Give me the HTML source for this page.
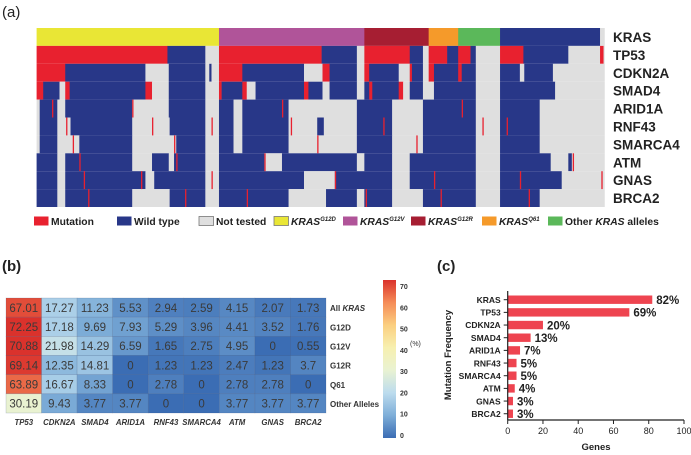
<!DOCTYPE html>
<html><head><meta charset="utf-8"><style>
html,body{margin:0;padding:0;background:#fff;width:691px;height:455px;overflow:hidden}
svg{display:block;font-family:"Liberation Sans",Arial,sans-serif}
</style></head><body>
<svg id="fig" width="691" height="455" viewBox="0 0 691 455">
<text x="2" y="17" font-size="15" fill="#222">(a)</text>
<g id="onco"></g>
<g id="ocolabels"></g>
<g id="legendA"></g>
<text x="2" y="271" font-size="15" font-weight="bold" fill="#222">(b)</text>
<g id="heat"></g>
<g id="cbar"></g>
<text x="437" y="271" font-size="15" font-weight="bold" fill="#222">(c)</text>
<g id="bars"></g>
</svg>
<script>
const NS="http://www.w3.org/2000/svg";
function mk(tag,attrs,parent){const e=document.createElementNS(NS,tag);for(const k in attrs)e.setAttribute(k,attrs[k]);parent.appendChild(e);return e;}

// ---------- Panel A data ----------
const oncoGenes=["KRAS","TP53","CDKN2A","SMAD4","ARID1A","RNF43","SMARCA4","ATM","GNAS","BRCA2"];
const alleleRuns=[["g12d",497],["g12v",827],["g12r",973],["q61",1040],["other",1135],["wt",1362],["n",1372]];
const tp53Runs=[["m",380],["w",466],["n",497],["m",730],["w",810],["n",827],["m",930],["w",960],["n",973],["m",1015],["w",1040],["m",1068],["w",1080],["n",1135],["m",1188],["w",1290],["n",1362],["m",1370],["n",1372]];
const cdkn2aRuns=[["m",148],["w",330],["n",383],["w",466],["n",475],["w",480],["n",497],["m",550],["w",690],["n",732],["m",748],["w",810],["n",827],["m",838],["w",905],["n",930],["m",935],["w",960],["n",973],["m",985],["w",1040],["m",1048],["w",1080],["n",1135],["w",1180],["n",1190],["w",1255],["n",1372]];
const smad4Runs=[["m",98],["w",135],["n",148],["m",158],["w",330],["m",345],["n",383],["w",466],["n",497],["m",503],["w",550],["m",560],["n",580],["w",690],["m",700],["w",732],["n",748],["w",810],["n",827],["w",838],["m",845],["w",905],["m",915],["n",930],["w",960],["n",985],["w",1080],["n",1135],["w",1260],["n",1372]];
const arid1aRuns=[["n",90],["w",130],["n",148],["w",300],["n",383],["w",466],["n",497],["w",530],["n",550],["w",655],["n",810],["w",890],["n",960],["w",1080],["n",1135],["w",1225],["n",1372]];
const rnf43Runs=[["n",90],["w",130],["n",160],["w",300],["n",385],["w",466],["n",497],["w",530],["n",550],["w",655],["n",720],["w",735],["n",810],["w",890],["n",960],["w",1080],["n",1135],["w",1225],["n",1372]];
const smarca4Runs=[["n",90],["w",130],["n",180],["w",300],["n",400],["w",466],["n",497],["w",530],["n",550],["w",655],["n",810],["w",890],["n",960],["w",1080],["n",1135],["w",1225],["n",1372]];
const atmRuns=[["w",130],["n",148],["w",300],["n",345],["w",383],["n",395],["w",466],["n",497],["w",600],["n",640],["w",810],["n",827],["w",890],["n",930],["w",1080],["n",1135],["w",1250],["n",1290],["w",1298],["n",1372]];
const gnasRuns=[["w",130],["n",148],["w",330],["n",350],["w",466],["n",497],["w",690],["n",760],["w",890],["n",930],["w",1080],["n",1135],["w",1275],["n",1372]];
const brca2Runs=[["w",130],["n",148],["w",300],["n",385],["w",466],["n",497],["w",655],["n",740],["w",810],["n",827],["w",890],["n",960],["w",1080],["n",1135],["w",1225],["n",1372]];
const geneRuns=[tp53Runs,cdkn2aRuns,smad4Runs,arid1aRuns,rnf43Runs,smarca4Runs,atmRuns,gnasRuns,brca2Runs];
const streakRows=[3,3,4,4,4,5,5,6,6,7,7,7,8,8,8,3,4,5,6,7,8,4,5,7,8,4,6,7,3,4,7,8];
const streakCols=[118,300,150,345,480,165,395,180,400,190,320,480,200,420,560,640,660,720,600,760,830,870,945,985,1000,1095,1300,1365,1048,1150,1180,1200];
const oncoColors={m:"#e8212f",w:"#283788",n:"#dfdfdf",g12d:"#e9e635",g12v:"#b05499",g12r:"#a61e32",q61:"#f59a2a",other:"#5bb85a",wt:"#283788"};

const oX0=36.6, oScale=2.27, oTop=28, oRowH=17.9;
const ux=u=>oX0+(u-83)/oScale;
const onco=document.getElementById("onco");
function drawRuns(runs,row){
  let s=83;
  runs.forEach(r=>{
    const rc=mk("rect",{x:ux(s),y:oTop+row*oRowH,width:Math.max(0,ux(r[1])-ux(s))+0.3,height:oRowH,fill:oncoColors[r[0]]},onco);
    
    
    s=r[1];
  });
}
drawRuns(alleleRuns,0);
geneRuns.forEach((runs,i)=>drawRuns(runs,i+1));
streakRows.forEach((r,i)=>{
  const st=mk("rect",{x:ux(streakCols[i]),y:oTop+(r+1)*oRowH,width:1.3,height:oRowH,fill:"#e8212f"},onco);
  
  
});
const ol=document.getElementById("ocolabels");
oncoGenes.forEach((g,i)=>{
  const t=mk("text",{x:613,y:oTop+i*oRowH+oRowH/2+5,"font-size":13.5,"font-weight":"bold",fill:"#222"},ol);
  t.textContent=g;
  
  
});
const legA=document.getElementById("legendA");
const legItems=[["#e8212f",34,"Mutation",null],["#283788",117,"Wild type",null],["#dfdfdf",199,"Not tested",null],["#e9e635",274,"KRAS","G12D"],["#b05499",343,"KRAS","G12V"],["#a61e32",411,"KRAS","G12R"],["#f59a2a",482,"KRAS","Q61"],["#5bb85a",548,"Other ",null]];
legItems.forEach((it,i)=>{
  const b=mk("rect",{x:it[1],y:216.5,width:14.5,height:9,fill:it[0],stroke:i>=2&&i<=3?"#777":"none","stroke-width":0.8},legA);
  
  
  const t=mk("text",{x:it[1]+17,y:225,"font-size":10.3,"font-weight":"bold",fill:"#222"},legA);
  
  
  if(it[3]){
    t.innerHTML='<tspan font-style="italic">KRAS</tspan><tspan font-style="italic" font-size="6" dy="-4">'+it[3]+'</tspan>';
  } else if(i===7){
    t.innerHTML='Other <tspan font-style="italic">KRAS</tspan> alleles';
  } else t.textContent=it[2];
});

// ---------- Panel B data ----------
const heatGenes=["TP53","CDKN2A","SMAD4","ARID1A","RNF43","SMARCA4","ATM","GNAS","BRCA2"];
const heatRows=["All KRAS","G12D","G12V","G12R","Q61","Other Alleles"];
const rowAll=[67.01,17.27,11.23,5.53,2.94,2.59,4.15,2.07,1.73];
const rowG12D=[72.25,17.18,9.69,7.93,5.29,3.96,4.41,3.52,1.76];
const rowG12V=[70.88,21.98,14.29,6.59,1.65,2.75,4.95,0,0.55];
const rowG12R=[69.14,12.35,14.81,0,1.23,1.23,2.47,1.23,3.7];
const rowQ61=[63.89,16.67,8.33,0,2.78,0,2.78,2.78,0];
const rowOther=[30.19,9.43,3.77,3.77,0,0,3.77,3.77,3.77];
const heatVals=[rowAll,rowG12D,rowG12V,rowG12R,rowQ61,rowOther];
const cbTicks=[0,10,20,30,40,50,60,70];
const stops=[[0,[59,109,180]],[10,[126,174,216]],[20,[188,220,238]],[30,[233,242,210]],[40,[247,240,176]],[50,[251,207,128]],[60,[245,140,88]],[70,[218,50,44]]];
function cmap(v){
  v=Math.max(0,Math.min(70,v));
  for(let i=0;i<stops.length-1;i++){
    const a=stops[i],b=stops[i+1];
    if(v<=b[0]){const t=(v-a[0])/(b[0]-a[0]);return "rgb("+a[1].map((c,j)=>Math.round(c+(b[1][j]-c)*t)).join(",")+")";}
  }
  return "rgb(218,50,44)";
}
const hX0=6,hY0=298,cw=(326-6)/9,ch=(413-298)/6;
const heat=document.getElementById("heat");
heatVals.forEach((row,r)=>{
  row.forEach((v,c)=>{
    const cell=mk("rect",{x:hX0+c*cw,y:hY0+r*ch,width:cw,height:ch,fill:cmap(v),stroke:"rgba(60,80,120,0.35)","stroke-width":0.5},heat);
    
    
    const t=mk("text",{x:hX0+c*cw+cw/2,y:hY0+r*ch+ch/2+4.3,"font-size":11.5,"text-anchor":"middle",fill:"#3a3a3a"},heat);
    t.textContent=String(v);
    
    
  });
  const rl=mk("text",{x:330,y:hY0+r*ch+ch/2+3.5,"font-size":8,"font-weight":"bold",fill:"#333"},heat);
  
  
  if(heatRows[r]==="All KRAS") rl.innerHTML='All <tspan font-style="italic">KRAS</tspan>'; else rl.textContent=heatRows[r];
});
heatGenes.forEach((g,c)=>{
  const t=mk("text",{x:hX0+c*cw+cw/2,y:425,"font-size":7.8,"font-weight":"bold","font-style":"italic","text-anchor":"middle",fill:"#333"},heat);
  t.textContent=g;
  
  
});
const cb=document.getElementById("cbar");
const defs=mk("defs",{},cb);
const lg=mk("linearGradient",{id:"cg",x1:0,y1:1,x2:0,y2:0},defs);
stops.forEach(s=>mk("stop",{offset:(s[0]/70*100)+"%","stop-color":cmap(s[0])},lg));
const cbTop=280,cbBot=438;
const cbr=mk("rect",{x:383,y:cbTop,width:13,height:cbBot-cbTop,fill:"url(#cg)"},cb);


cbTicks.forEach(v=>{
  const y=cbBot-3-v/70*(cbBot-cbTop-9);
  const t=mk("text",{x:400,y:y+3,"font-size":7,"font-weight":"bold",fill:"#333"},cb);
  t.textContent=String(v);
  
  
});
const pct=mk("text",{x:410,y:346,"font-size":7,fill:"#333"},cb);
pct.textContent="(%)";



// ---------- Panel C data ----------
const barGenes=["KRAS","TP53","CDKN2A","SMAD4","ARID1A","RNF43","SMARCA4","ATM","GNAS","BRCA2"];
const barVals=[82,69,20,13,7,5,5,4,3,3];
const xTicks=[0,20,40,60,80,100];
const bx0=507.7,bx1=684,byTop=291,byBot=420,bRowY0=299.7,bStep=12.67;
const xs=v=>bx0+v/100*(bx1-bx0);
const bars=document.getElementById("bars");
barGenes.forEach((g,i)=>{
  const y=bRowY0+i*bStep;
  const b=mk("rect",{x:xs(0),y:y-4.2,width:xs(barVals[i])-xs(0),height:8.4,fill:"#ee4450"},bars);
  
  
  const l=mk("text",{x:xs(barVals[i])+4,y:y+4.3,"font-size":11.5,"font-weight":"bold",fill:"#222"},bars);
  l.textContent=barVals[i]+"%";
  
  
  const gl=mk("text",{x:bx0-7,y:y+3.2,"font-size":8.5,"font-weight":"bold","text-anchor":"end",fill:"#222"},bars);
  gl.textContent=g;
  
  
  mk("line",{x1:bx0-4,x2:bx0,y1:y,y2:y,stroke:"#222","stroke-width":1},bars);
});
const ya=mk("line",{x1:bx0,x2:bx0,y1:byTop,y2:byBot,stroke:"#222","stroke-width":1.2},bars);


const xa=mk("line",{x1:bx0,x2:bx1,y1:byBot,y2:byBot,stroke:"#222","stroke-width":1.2},bars);


xTicks.forEach(v=>{
  mk("line",{x1:xs(v),x2:xs(v),y1:byBot,y2:byBot+4,stroke:"#222","stroke-width":1},bars);
  const t=mk("text",{x:xs(v),y:434,"font-size":9,"text-anchor":"middle",fill:"#222"},bars);
  t.textContent=String(v);
  
  
});
const xt=mk("text",{x:596,y:450,"font-size":9.5,"font-weight":"bold","text-anchor":"middle",fill:"#222"},bars);
xt.textContent="Genes";


const yt=mk("text",{x:0,y:0,"font-size":9.5,"font-weight":"bold","text-anchor":"middle",fill:"#222",transform:"translate(451,355) rotate(-90)"},bars);
yt.textContent="Mutation Frequency";


</script>
</body></html>
